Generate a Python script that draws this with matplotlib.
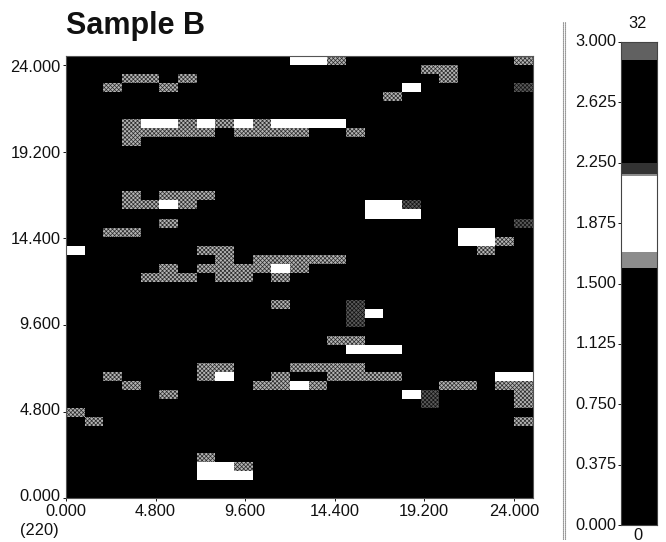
import matplotlib
matplotlib.use('Agg')
import matplotlib.pyplot as plt
from matplotlib.transforms import ScaledTranslation
import numpy as np

plt.rcParams['font.family'] = ['Liberation Sans', 'DejaVu Sans']
plt.rcParams['hatch.linewidth'] = 0.5

# runs of cells: (y of lower edge, first x, number of cells)
white_runs = [
    (24.0, 12, 2), (22.5, 18, 1), (20.5, 4, 2), (20.5, 7, 1), (20.5, 9, 1), (20.5, 11, 4),
    (16.0, 5, 1), (16.0, 16, 2), (15.5, 16, 3), (14.5, 21, 2), (14.0, 21, 2), (13.5, 0, 1),
    (12.5, 11, 1), (10.0, 16, 1), (8.0, 15, 3), (6.5, 8, 1), (6.5, 23, 2), (6.0, 12, 1),
    (5.5, 18, 1), (1.5, 7, 2), (1.0, 7, 3),
]
gray_runs = [
    (24.0, 14, 1), (24.0, 24, 1), (23.5, 19, 2), (23.0, 3, 2), (23.0, 6, 1), (23.0, 20, 1),
    (22.5, 2, 1), (22.5, 5, 1), (22.0, 17, 1),
    (20.5, 3, 1), (20.5, 6, 1), (20.5, 8, 1), (20.5, 10, 1),
    (20.0, 3, 5), (20.0, 9, 4), (20.0, 15, 1), (19.5, 3, 1),
    (16.5, 3, 1), (16.5, 5, 3), (16.0, 3, 2), (16.0, 6, 1),
    (15.0, 5, 1), (14.5, 2, 2), (14.0, 23, 1), (13.5, 7, 2), (13.5, 22, 1),
    (13.0, 8, 1), (13.0, 10, 5), (12.5, 5, 1), (12.5, 7, 4), (12.5, 12, 1),
    (12.0, 4, 3), (12.0, 8, 2), (12.0, 11, 1), (10.5, 11, 1),
    (8.5, 14, 2), (7.0, 7, 2), (7.0, 12, 4),
    (6.5, 2, 1), (6.5, 7, 1), (6.5, 11, 1), (6.5, 14, 4),
    (6.0, 3, 1), (6.0, 10, 2), (6.0, 13, 1), (6.0, 20, 2), (6.0, 23, 1), (6.0, 24, 1),
    (5.5, 5, 1), (5.5, 24, 1), (5.0, 24, 1), (4.5, 0, 1), (4.0, 1, 1), (4.0, 24, 1),
    (2.0, 7, 1), (1.5, 9, 1),
]
dim_runs = [
    (22.5, 24, 1), (16.0, 18, 1), (15.0, 24, 1), (10.5, 15, 1), (10.0, 15, 1), (9.5, 15, 1),
    (5.5, 19, 1), (5.0, 19, 1),
]

x_ticks = [0, 4.8, 9.6, 14.4, 19.2, 24]
x_labels = ['0.000', '4.800', '9.600', '14.400', '19.200', '24.000']
y_ticks = [0, 4.8, 9.6, 14.4, 19.2, 24]
y_labels = ['0.000', '4.800', '9.600', '14.400', '19.200', '24.000']

bar_ticks = [0, 0.375, 0.75, 1.125, 1.5, 1.875, 2.25, 2.625, 3.0]
bar_labels = ['0.000', '0.375', '0.750', '1.125', '1.500', '1.875', '2.250', '2.625', '3.000']
bar_edges = [0, 1.596, 1.696, 2.168, 2.18, 2.248, 2.888, 3.0]
bar_levels = [0, 0.55, 1, 0.55, 0.2, 0, 0.38]

W, H = 666, 542
fig = plt.figure(figsize=(W / 100, H / 100), dpi=100, facecolor='white')


def px_axes(x0, y0, x1, y1):
    return fig.add_axes([x0 / W, 1 - y1 / H, (x1 - x0) / W, (y1 - y0) / H])


ax = px_axes(66, 56, 532.5, 498.4)
ax.set_facecolor('black')
ax.set_xlim(0, 25)
ax.set_ylim(0, 24.5)

for y, x, n in gray_runs:
    ax.barh(y, n, left=x, height=0.5, align='edge', color='#b4b4b4', hatch='xxxxxxxx', edgecolor='#2a2a2a', linewidth=0)
for y, x, n in dim_runs:
    ax.barh(y, n, left=x, height=0.5, align='edge', color='#5a5a5a', hatch='xxxxxxxx', edgecolor='#111111', linewidth=0)
for y, x, n in white_runs:
    ax.barh(y, n, left=x, height=0.5, align='edge', color='white', linewidth=0)

ax.set_xticks(x_ticks)
ax.set_xticklabels(x_labels)
ax.set_yticks(y_ticks)
ax.set_yticklabels(y_labels)
ax.tick_params(axis='both', length=2.5, width=0.7, labelsize=11.8, pad=1.5, colors='#111111')
for s in ax.spines.values():
    s.set_color('#555555')
    s.set_linewidth(0.8)

# the printed labels sit a little off their ticks
for lab, shift in zip(ax.get_yticklabels(), [3.4, 2.7, 2, 0.4, -0.3, -1]):
    lab.set_transform(lab.get_transform() + ScaledTranslation(0, shift / 100, fig.dpi_scale_trans))

# colour scale on the right
cax = px_axes(621, 42, 657, 525)
cax.pcolormesh([0, 1], bar_edges, np.array(bar_levels).reshape(-1, 1), cmap='gray', vmin=0, vmax=1)
cax.set_ylim(0, 3)
cax.set_xticks([])
cax.set_yticks(bar_ticks)
cax.set_yticklabels(bar_labels)
cax.tick_params(axis='y', length=2.5, width=0.7, labelsize=11.8, pad=0.8, colors='#111111')
for s in cax.spines.values():
    s.set_color('#444444')
    s.set_linewidth(0.8)
for lab in cax.get_yticklabels():
    lab.set_transform(lab.get_transform() + ScaledTranslation(0, 1.5 / 100, fig.dpi_scale_trans))

for xp in (562.5, 565.2):
    fig.add_artist(plt.Line2D([xp / W, xp / W], [1 - 22 / H, 1 - 540 / H], color='#555555', lw=0.8, ls=(0, (1, 0.8))))

fig.text(66 / W, 1 - 34 / H, 'Sample B', fontsize=22, fontweight='bold', color='#111111', va='baseline')
fig.text(20 / W, 1 - 530 / H, '(220)', fontsize=11.8, color='#111111', va='center')
fig.text(638 / W, 1 - 24 / H, '32', fontsize=11.8, color='#111111', ha='center', va='center')
fig.text(638 / W, 1 - 536 / H, '0', fontsize=11.8, color='#111111', ha='center', va='center')

fig.savefig('out.png', dpi=100)
